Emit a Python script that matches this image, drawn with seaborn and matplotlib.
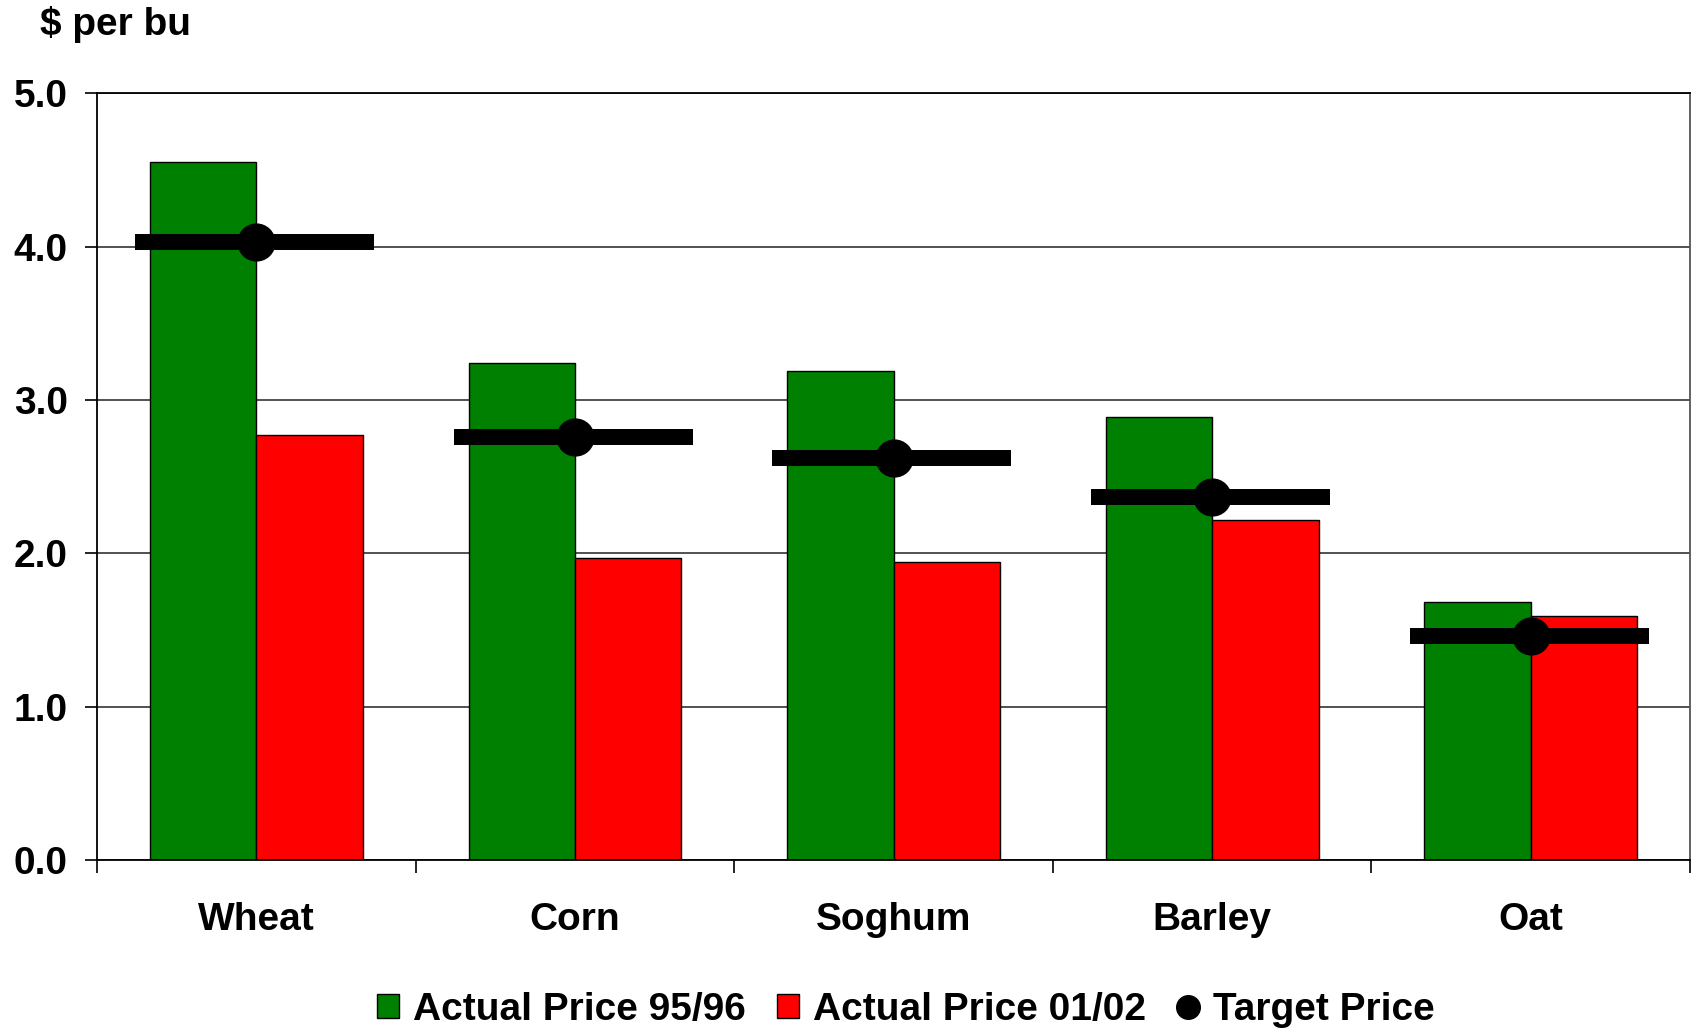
import matplotlib
matplotlib.use("Agg")
import matplotlib.pyplot as plt
from matplotlib.lines import Line2D
from matplotlib.patches import Patch
from matplotlib.ticker import FixedLocator
import numpy as np
import pandas as pd
import seaborn as sns

# Grain prices, $ per bushel
crops = ["Wheat", "Corn", "Soghum", "Barley", "Oat"]
price_95_96 = [4.55, 3.24, 3.19, 2.89, 1.68]
price_01_02 = [2.77, 1.97, 1.945, 2.22, 1.59]
target_price = [4.03, 2.76, 2.62, 2.37, 1.46]
series_names = ["Actual Price 95/96", "Actual Price 01/02"]
y_ticks = [0.0, 1.0, 2.0, 3.0, 4.0, 5.0]

GREEN = "#008000"
RED = "#FF0000"

sns.set_theme(style="white")
plt.rcParams["font.family"] = ["Liberation Sans", "DejaVu Sans"]
plt.rcParams["font.weight"] = "bold"
plt.rcParams["text.color"] = "black"
plt.rcParams["xtick.color"] = "black"
plt.rcParams["ytick.color"] = "black"

df = pd.DataFrame({
    "crop": crops * 2,
    "series": [series_names[0]] * len(crops) + [series_names[1]] * len(crops),
    "price": price_95_96 + price_01_02,
})

fig = plt.figure(figsize=(16.96, 10.33), dpi=100)
ax = fig.add_axes([0.0572, 0.1675, 0.9393, 0.7423])

sns.barplot(data=df, x="crop", y="price", hue="series", order=crops,
            hue_order=series_names, palette=[GREEN, RED], width=0.668,
            edgecolor="black", linewidth=1.0, saturation=1, ax=ax,
            legend=False, zorder=2)

# Target price: thick bar across each crop group with a dot in the middle
xs = np.arange(len(crops))
ax.hlines(target_price, xs - 0.38, xs + 0.37, colors="black",
          linewidth=11.5, zorder=4, capstyle="butt")
ax.plot(xs, target_price, linestyle="none", marker="o", markersize=26.5,
        color="black", zorder=5)

ax.set_xlim(-0.5, len(crops) - 0.5)
ax.set_ylim(0, 5.0)
ax.set_yticks(y_ticks)
ax.set_yticklabels([f"{v:.1f}" for v in y_ticks], fontsize=28,
                   fontweight="bold", color="black")
ax.set_xticks(xs)
ax.set_xticklabels(crops, fontsize=28, fontweight="bold", color="black")
ax.xaxis.set_minor_locator(FixedLocator(np.arange(-0.5, len(crops), 1.0)))
ax.tick_params(axis="x", which="major", length=0, pad=30)
ax.tick_params(axis="x", which="minor", length=9, width=1.2, direction="out",
               color="black", bottom=True)
ax.tick_params(axis="y", which="major", length=9, width=1.2, direction="out",
               color="black", left=True, pad=12)
ax.set_xlabel("")
ax.set_ylabel("")

ax.yaxis.grid(True, color="#333333", linewidth=1.2, zorder=0)
ax.set_axisbelow(True)
for side in ["left", "bottom", "top"]:
    ax.spines[side].set_color("black")
    ax.spines[side].set_linewidth(1.3)
ax.spines["right"].set_color("#555555")
ax.spines["right"].set_linewidth(1.3)

fig.text(0.0236, 0.976, "$ per bu", fontsize=28, fontweight="bold",
         ha="left", va="center", color="black")

handles = [
    Patch(facecolor=GREEN, edgecolor="black", linewidth=1.0),
    Patch(facecolor=RED, edgecolor="black", linewidth=1.0),
    Line2D([], [], linestyle="none", marker="o", markersize=17, color="black"),
]
fig.legend(handles, series_names + ["Target Price"], loc="center",
           bbox_to_anchor=(0.534, 0.0223), ncol=3, frameon=False,
           prop={"size": 28, "weight": "bold"}, labelcolor="black",
           handlelength=0.58, handleheight=0.58, handletextpad=0.35,
           columnspacing=0.8, borderaxespad=0, borderpad=0)

fig.savefig("out.png", dpi=100)
